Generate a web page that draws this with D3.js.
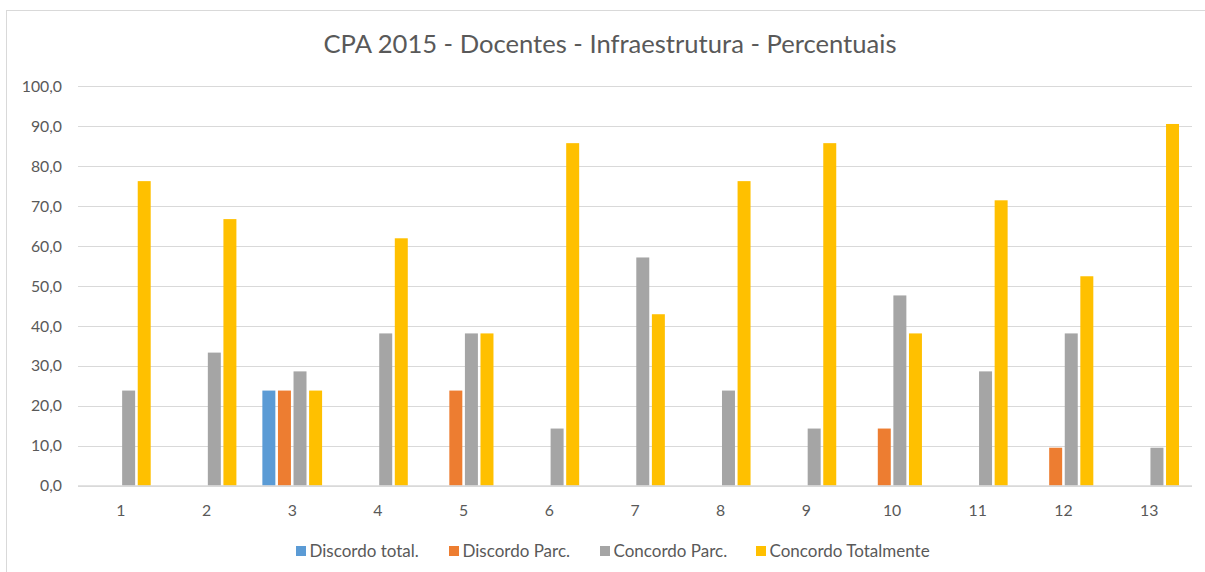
<!DOCTYPE html>
<html><head><meta charset="utf-8">
<script src="https://cdn.jsdelivr.net/npm/d3@7"></script>
<style>body{margin:0;background:#fff;} svg{display:block;}</style>
</head><body>
<svg id="c" width="1205" height="572"></svg>
<script>
const categories = ["1","2","3","4","5","6","7","8","9","10","11","12","13"];
const seriesNames = ["Discordo total.","Discordo Parc.","Concordo Parc.","Concordo Totalmente"];
const discordoTotal = [0,0,23.8,0,0,0,0,0,0,0,0,0,0];
const discordoParc = [0,0,23.8,0,23.8,0,0,0,0,14.3,0,9.5,0];
const concordoParc = [23.8,33.3,28.6,38.1,38.1,14.3,57.1,23.8,14.3,47.6,28.6,38.1,9.5];
const concordoTot = [76.2,66.7,23.8,61.9,38.1,85.7,42.9,76.2,85.7,38.1,71.4,52.4,90.5];
const yTicks = [0,10,20,30,40,50,60,70,80,90,100];
const colors = ["#5B9BD5","#ED7D31","#A5A5A5","#FFC000"];
const title = "CPA 2015 - Docentes - Infraestrutura - Percentuais";

const series = [discordoTotal, discordoParc, concordoParc, concordoTot];
const font = "Lato, 'Open Sans', sans-serif";
const svg = d3.select("#c");

// chart border
svg.append("rect").attr("x",6.5).attr("y",10.5).attr("width",1240).attr("height",600)
  .attr("fill","#fff").attr("stroke","#d9d9d9").attr("stroke-width",1);

const L=78, R=1192, T=86, B=485.7;
const x = d3.scaleBand().domain(categories).range([L,R]).paddingInner(0).paddingOuter(0);
const y = d3.scaleLinear().domain([0,100]).range([B,T]);

// gridlines
svg.append("g").selectAll("line").data(yTicks).join("line")
  .attr("x1",L).attr("x2",R).attr("y1",d=>Math.round(y(d))+0.5).attr("y2",d=>Math.round(y(d))+0.5)
  .attr("stroke","#d9d9d9").attr("stroke-width",1);

// y labels
svg.append("g").selectAll("text").data(yTicks).join("text")
  .attr("x",62).attr("y",d=>y(d)).attr("dy","0.36em").attr("text-anchor","end")
  .attr("font-family",font).attr("font-size",15.8).attr("fill","#595959")
  .text(d=>d.toFixed(1).replace(".",","));

// bars
const bw = x.bandwidth();
const w = bw/6.6, step = w*1.2;
series.forEach((s,si)=>{
  svg.append("g").selectAll("rect").data(s.map((v,i)=>({v,c:categories[i]}))).join("rect")
    .filter(d=>d.v>0)
    .attr("x",d=>x(d.c)+bw/2-2.3*w+si*step)
    .attr("width",w)
    .attr("y",d=>y(d.v))
    .attr("height",d=>B-y(d.v))
    .attr("fill",colors[si]);
});

// axis line
svg.append("line").attr("x1",L).attr("x2",R).attr("y1",486).attr("y2",486)
  .attr("stroke","#d9d9d9").attr("stroke-width",1.5);

// x labels
svg.append("g").selectAll("text").data(categories).join("text")
  .attr("x",d=>x(d)+bw/2).attr("y",510).attr("dy","0.36em").attr("text-anchor","middle")
  .attr("font-family",font).attr("font-size",15.8).attr("fill","#595959").text(d=>d);

// title
svg.append("text").attr("x",610).attr("y",53).attr("text-anchor","middle")
  .attr("font-family",font).attr("font-size",25.6).attr("fill","#595959").text(title);

// legend
const legX = [296,449,600,756];
const lg = svg.append("g");
seriesNames.forEach((n,i)=>{
  lg.append("rect").attr("x",legX[i]).attr("y",546).attr("width",10).attr("height",10).attr("fill",colors[i]);
  lg.append("text").attr("x",legX[i]+13.5).attr("y",556.5)
    .attr("font-family",font).attr("font-size",17).attr("fill","#595959").text(n);
});
</script>
</body></html>
